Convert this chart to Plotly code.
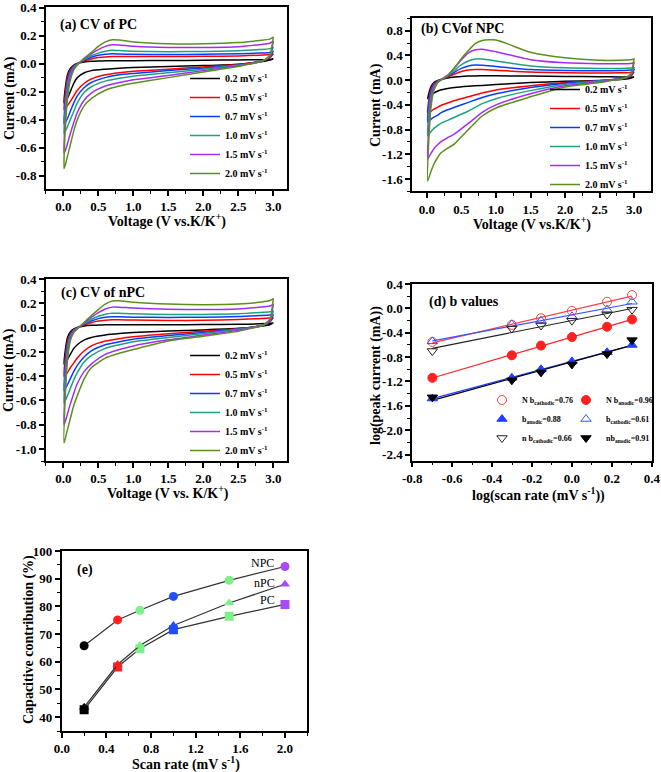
import plotly.graph_objects as go
import numpy as np

W, H = 661, 772
FONT = "Liberation Serif"


def px(x):
    return x / W


def py(y):
    return 1 - y / H


# ---------------- data ----------------
RATE_LABELS = ["0.2 mV s<sup>-1</sup>", "0.5 mV s<sup>-1</sup>", "0.7 mV s<sup>-1</sup>",
               "1.0 mV s<sup>-1</sup>", "1.5 mV s<sup>-1</sup>", "2.0 mV s<sup>-1</sup>"]
CV_COLORS = ["#000000", "#ff0000", "#0a3cff", "#1fa07f", "#a52cf5", "#5b8f1f"]

# voltage grids: anodic sweep (0 -> 3 V) and cathodic sweep (3 -> 0 V)
V_UP = [0.01, 0.03, 0.06, 0.1, 0.15, 0.2, 0.3, 0.4, 0.5, 0.6, 0.7, 0.8, 1.0, 1.5, 2.0, 2.5, 2.8, 2.95, 3.0]
V_DOWN = [3.0, 2.95, 2.85, 2.7, 2.5, 2.0, 1.5, 1.0, 0.8, 0.6, 0.4, 0.3, 0.2, 0.15, 0.1, 0.06, 0.03, 0.01]

# (a) PC
PC_UP = [
    [-0.28, -0.17, -0.08, -0.035, -0.01, 0.002, 0.012, 0.017, 0.019, 0.02, 0.02, 0.02, 0.021, 0.022, 0.024, 0.026, 0.028, 0.03, 0.035],
    [-0.33, -0.21, -0.1, -0.045, -0.015, 0.0, 0.02, 0.033, 0.043, 0.048, 0.05, 0.05, 0.05, 0.05, 0.052, 0.055, 0.06, 0.065, 0.07],
    [-0.43, -0.26, -0.13, -0.055, -0.02, -0.002, 0.025, 0.045, 0.06, 0.067, 0.07, 0.068, 0.066, 0.065, 0.067, 0.07, 0.075, 0.08, 0.09],
    [-0.5, -0.3, -0.15, -0.07, -0.025, -0.005, 0.03, 0.056, 0.075, 0.088, 0.095, 0.093, 0.089, 0.085, 0.087, 0.092, 0.1, 0.107, 0.12],
    [-0.64, -0.38, -0.2, -0.09, -0.035, -0.008, 0.035, 0.07, 0.1, 0.123, 0.135, 0.133, 0.124, 0.115, 0.115, 0.12, 0.135, 0.145, 0.16],
    [-0.75, -0.45, -0.25, -0.12, -0.045, -0.01, 0.04, 0.08, 0.123, 0.155, 0.17, 0.168, 0.155, 0.142, 0.142, 0.15, 0.165, 0.175, 0.19],
]
PC_DOWN = [
    [0.035, 0.025, 0.015, 0.006, -0.004, -0.014, -0.021, -0.028, -0.033, -0.04, -0.05, -0.065, -0.1, -0.14, -0.2, -0.245, -0.27, -0.28],
    [0.07, 0.04, 0.02, 0.006, -0.007, -0.024, -0.04, -0.055, -0.065, -0.08, -0.11, -0.14, -0.19, -0.23, -0.27, -0.3, -0.32, -0.33],
    [0.09, 0.045, 0.02, 0.005, -0.01, -0.032, -0.05, -0.07, -0.08, -0.1, -0.135, -0.17, -0.23, -0.28, -0.34, -0.39, -0.42, -0.43],
    [0.12, 0.05, 0.02, 0.003, -0.012, -0.04, -0.065, -0.09, -0.105, -0.125, -0.165, -0.205, -0.28, -0.34, -0.4, -0.45, -0.48, -0.5],
    [0.16, 0.055, 0.02, 0.001, -0.015, -0.05, -0.085, -0.115, -0.135, -0.16, -0.21, -0.26, -0.35, -0.42, -0.5, -0.57, -0.62, -0.64],
    [0.19, 0.06, 0.02, 0.0, -0.02, -0.06, -0.1, -0.14, -0.16, -0.19, -0.25, -0.3, -0.4, -0.48, -0.58, -0.66, -0.72, -0.75],
]

# (b) NPC
NPC_UP = [
    [-0.3, -0.2, -0.1, -0.04, -0.01, 0.01, 0.035, 0.05, 0.06, 0.065, 0.068, 0.07, 0.07, 0.065, 0.06, 0.055, 0.05, 0.05, 0.05],
    [-0.53, -0.3, -0.14, -0.06, -0.02, 0.005, 0.05, 0.1, 0.14, 0.165, 0.17, 0.17, 0.16, 0.13, 0.12, 0.115, 0.12, 0.125, 0.13],
    [-0.68, -0.38, -0.18, -0.08, -0.025, 0.005, 0.06, 0.13, 0.19, 0.23, 0.245, 0.24, 0.22, 0.17, 0.155, 0.15, 0.155, 0.165, 0.17],
    [-0.9, -0.5, -0.24, -0.1, -0.03, 0.005, 0.07, 0.16, 0.25, 0.31, 0.34, 0.34, 0.31, 0.23, 0.2, 0.19, 0.19, 0.195, 0.2],
    [-1.28, -0.7, -0.32, -0.13, -0.04, 0.005, 0.08, 0.2, 0.33, 0.44, 0.49, 0.5, 0.46, 0.33, 0.28, 0.265, 0.265, 0.27, 0.28],
    [-1.63, -0.9, -0.42, -0.17, -0.05, 0.0, 0.07, 0.2, 0.35, 0.48, 0.59, 0.64, 0.65, 0.45, 0.36, 0.32, 0.32, 0.33, 0.34],
]
NPC_DOWN = [
    [0.05, 0.03, 0.015, 0.005, -0.005, -0.02, -0.04, -0.07, -0.085, -0.1, -0.12, -0.135, -0.16, -0.18, -0.21, -0.24, -0.27, -0.3],
    [0.13, 0.06, 0.03, 0.01, -0.01, -0.04, -0.09, -0.16, -0.21, -0.27, -0.33, -0.37, -0.41, -0.44, -0.47, -0.5, -0.52, -0.53],
    [0.17, 0.07, 0.03, 0.01, -0.012, -0.05, -0.12, -0.22, -0.28, -0.36, -0.44, -0.48, -0.53, -0.57, -0.6, -0.63, -0.66, -0.68],
    [0.2, 0.08, 0.03, 0.008, -0.015, -0.07, -0.17, -0.3, -0.38, -0.5, -0.6, -0.65, -0.7, -0.74, -0.78, -0.83, -0.87, -0.9],
    [0.28, 0.09, 0.03, 0.005, -0.025, -0.09, -0.22, -0.4, -0.52, -0.7, -0.87, -0.93, -1.0, -1.05, -1.11, -1.18, -1.24, -1.28],
    [0.34, 0.1, 0.03, 0.0, -0.04, -0.11, -0.27, -0.45, -0.58, -0.8, -1.03, -1.1, -1.18, -1.26, -1.36, -1.47, -1.57, -1.63],
]

# (c) nPC
NPC2_UP = [
    [-0.3, -0.18, -0.08, -0.035, -0.01, 0.003, 0.015, 0.02, 0.022, 0.024, 0.025, 0.025, 0.025, 0.025, 0.026, 0.028, 0.032, 0.036, 0.04],
    [-0.4, -0.24, -0.11, -0.05, -0.015, 0.0, 0.025, 0.042, 0.055, 0.062, 0.065, 0.065, 0.063, 0.06, 0.062, 0.068, 0.075, 0.08, 0.085],
    [-0.52, -0.3, -0.14, -0.06, -0.02, -0.002, 0.03, 0.055, 0.075, 0.087, 0.09, 0.09, 0.087, 0.085, 0.087, 0.092, 0.1, 0.105, 0.11],
    [-0.62, -0.36, -0.17, -0.07, -0.025, -0.005, 0.035, 0.068, 0.095, 0.112, 0.12, 0.12, 0.115, 0.11, 0.11, 0.115, 0.125, 0.132, 0.14],
    [-0.8, -0.46, -0.22, -0.09, -0.03, -0.008, 0.04, 0.085, 0.125, 0.155, 0.17, 0.17, 0.162, 0.152, 0.15, 0.155, 0.17, 0.18, 0.19],
    [-0.95, -0.55, -0.27, -0.11, -0.04, -0.01, 0.045, 0.1, 0.15, 0.195, 0.22, 0.222, 0.21, 0.195, 0.19, 0.195, 0.21, 0.225, 0.24],
]
NPC2_DOWN = [
    [0.04, 0.025, 0.015, 0.005, -0.005, -0.018, -0.027, -0.04, -0.048, -0.06, -0.08, -0.1, -0.14, -0.17, -0.22, -0.26, -0.285, -0.3],
    [0.085, 0.045, 0.02, 0.005, -0.008, -0.03, -0.05, -0.075, -0.09, -0.11, -0.15, -0.19, -0.25, -0.29, -0.33, -0.37, -0.39, -0.4],
    [0.11, 0.05, 0.02, 0.004, -0.01, -0.04, -0.065, -0.095, -0.115, -0.14, -0.19, -0.24, -0.31, -0.36, -0.42, -0.47, -0.5, -0.52],
    [0.14, 0.055, 0.02, 0.002, -0.012, -0.048, -0.08, -0.115, -0.14, -0.17, -0.23, -0.28, -0.37, -0.43, -0.5, -0.56, -0.6, -0.62],
    [0.19, 0.06, 0.02, 0.0, -0.02, -0.06, -0.1, -0.15, -0.18, -0.22, -0.3, -0.36, -0.46, -0.54, -0.63, -0.71, -0.77, -0.8],
    [0.24, 0.07, 0.02, -0.002, -0.03, -0.07, -0.11, -0.18, -0.21, -0.25, -0.33, -0.42, -0.56, -0.64, -0.75, -0.84, -0.91, -0.95],
]

# (d) b values
LOG_RATE = [-0.699, -0.301, -0.155, 0.0, 0.176, 0.301]
N_CATH = [-0.55, -0.27, -0.16, -0.04, 0.11, 0.22]
N_ANOD = [-1.14, -0.77, -0.61, -0.47, -0.30, -0.18]
P_ANOD = [-1.48, -1.14, -1.00, -0.87, -0.72, -0.60]
P_CATH = [-0.54, -0.26, -0.20, -0.13, -0.02, 0.11]
n_CATH = [-0.70, -0.33, -0.28, -0.20, -0.10, -0.02]
n_ANOD = [-1.46, -1.18, -1.05, -0.92, -0.75, -0.52]
D_LABELS = ["N b<sub>cathodic</sub>=0.76", "N b<sub>anodic</sub>=0.96",
            "b<sub>anodic</sub>=0.88", "b<sub>cathodic</sub>=0.61",
            "n b<sub>cathodic</sub>=0.66", "nb<sub>anodic</sub>=0.91"]

# (e) capacitive contribution
SCAN_RATE = [0.2, 0.5, 0.7, 1.0, 1.5, 2.0]
CAP_NPC = [65.8, 75.1, 78.6, 83.6, 89.4, 94.4]
CAP_nPC = [43.6, 59.0, 65.9, 73.1, 81.2, 88.0]
CAP_PC = [42.7, 58.1, 64.7, 71.6, 76.4, 80.7]
POINT_COLORS = ["#000000", "#ff2020", "#7ef08a", "#1f4fff", "#7ef08a", "#a64cf2"]

# tick labels
CV_XTICKS = [0.0, 0.5, 1.0, 1.5, 2.0, 2.5, 3.0]
A_YTICKS = [-0.8, -0.6, -0.4, -0.2, 0.0, 0.2, 0.4]
B_YTICKS = [-1.6, -1.2, -0.8, -0.4, 0.0, 0.4, 0.8]
C_YTICKS = [-1.0, -0.8, -0.6, -0.4, -0.2, 0.0, 0.2, 0.4]
D_XTICKS = [-0.8, -0.6, -0.4, -0.2, 0.0, 0.2, 0.4]
D_YTICKS = [-2.4, -2.0, -1.6, -1.2, -0.8, -0.4, 0.0, 0.4]
E_XTICKS = [0.0, 0.4, 0.8, 1.2, 1.6, 2.0]
E_YTICKS = [40, 50, 60, 70, 80, 90, 100]

# ---------------- figure ----------------
fig = go.Figure()


def cv_traces(up, down, xa, ya, legend):
    for i in range(6):
        fig.add_trace(go.Scatter(
            x=V_UP + V_DOWN, y=up[i] + down[i], mode="lines",
            line=dict(color=CV_COLORS[i], width=1.5, shape="spline", smoothing=0.6),
            name=RATE_LABELS[i], xaxis=xa, yaxis=ya, legend=legend, showlegend=True))


cv_traces(PC_UP, PC_DOWN, "x", "y", "legend")
cv_traces(NPC_UP, NPC_DOWN, "x2", "y2", "legend2")
cv_traces(NPC2_UP, NPC2_DOWN, "x3", "y3", "legend3")

# (d) fits and points
d_series = [
    (N_CATH, "#ff4040", "circle-open", D_LABELS[0], "legend4"),
    (N_ANOD, "#ff2020", "circle", D_LABELS[1], "legend5"),
    (P_ANOD, "#1f3fff", "triangle-up", D_LABELS[2], "legend4"),
    (P_CATH, "#3355ff", "triangle-up-open", D_LABELS[3], "legend5"),
    (n_CATH, "#222222", "triangle-down-open", D_LABELS[4], "legend4"),
    (n_ANOD, "#000000", "triangle-down", D_LABELS[5], "legend5"),
]
lx = np.array([LOG_RATE[0], LOG_RATE[-1]])
for ys, col, sym, lab, lg in d_series:
    k, b = np.polyfit(LOG_RATE, ys, 1)
    fig.add_trace(go.Scatter(x=lx, y=k * lx + b, mode="lines", line=dict(color=col, width=1.2),
                             xaxis="x4", yaxis="y4", showlegend=False, hoverinfo="skip"))
for ys, col, sym, lab, lg in d_series:
    fig.add_trace(go.Scatter(x=LOG_RATE, y=ys, mode="markers",
                             marker=dict(symbol=sym, size=9, color=col, line=dict(color=col, width=1)),
                             name=lab, xaxis="x4", yaxis="y4", legend=lg, showlegend=True))

# (e)
for ys, sym in [(CAP_PC, "square"), (CAP_nPC, "triangle-up"), (CAP_NPC, "circle")]:
    fig.add_trace(go.Scatter(x=SCAN_RATE, y=ys, mode="lines+markers",
                             line=dict(color="#333333", width=1.2),
                             marker=dict(symbol=sym, size=9, color=POINT_COLORS, line=dict(width=0)),
                             xaxis="x5", yaxis="y5", showlegend=False))


def fmt(vals, d):
    return [f"{v:.{d}f}" for v in vals]


def axis(dom, rng, ticks, dec, minor, anchor):
    return dict(domain=dom, range=rng, tickmode="array", tickvals=ticks, ticktext=fmt(ticks, dec),
                ticks="outside", ticklen=5, tickwidth=1.5, tickcolor="black",
                showline=True, linewidth=1.5, linecolor="black", mirror=True,
                showgrid=False, zeroline=False, anchor=anchor, automargin=False,
                tickfont=dict(family=FONT, size=13, color="black", weight="bold"),
                minor=dict(ticks="outside", ticklen=3, tickwidth=1, tickcolor="black",
                           tickmode="linear", tick0=0, dtick=minor, showgrid=False))


# pixel boxes (left, right, top, bottom)
A_BOX = (45.8, 287.3, 7.3, 189.0)
B_BOX = (412.0, 651.0, 18.3, 191.4)
C_BOX = (45.8, 287.3, 279.0, 461.1)
D_BOX = (412.0, 652.0, 284.0, 460.6)
E_BOX = (61.7, 307.3, 550.7, 731.0)


def xd(b):
    return [px(b[0]), px(b[1])]


def yd(b):
    return [py(b[3]), py(b[2])]


fig.update_layout(
    width=W, height=H, margin=dict(l=0, r=0, t=0, b=0, pad=0, autoexpand=False),
    paper_bgcolor="white", plot_bgcolor="white",
    font=dict(family=FONT, color="black"),
    xaxis=axis(xd(A_BOX), [-0.25, 3.2], CV_XTICKS, 1, 0.25, "y"),
    yaxis=axis(yd(A_BOX), [-0.895, 0.402], A_YTICKS, 1, 0.1, "x"),
    xaxis2=axis(xd(B_BOX), [-0.217, 3.246], CV_XTICKS, 1, 0.25, "y2"),
    yaxis2=axis(yd(B_BOX), [-1.8, 1.0], B_YTICKS, 1, 0.2, "x2"),
    xaxis3=axis(xd(C_BOX), [-0.25, 3.2], CV_XTICKS, 1, 0.25, "y3"),
    yaxis3=axis(yd(C_BOX), [-1.1, 0.402], C_YTICKS, 1, 0.1, "x3"),
    xaxis4=axis(xd(D_BOX), [-0.801, 0.401], D_XTICKS, 1, 0.1, "y4"),
    yaxis4=axis(yd(D_BOX), [-2.5, 0.402], D_YTICKS, 1, 0.2, "x4"),
    xaxis5=axis(xd(E_BOX), [-0.001, 2.2], E_XTICKS, 1, 0.2, "y5"),
    yaxis5=axis(yd(E_BOX), [35, 100.1], E_YTICKS, 0, 5, "x5"),
)


def leg(x, yc, size=10):
    return dict(x=px(x), y=py(yc), xanchor="left", yanchor="middle", bgcolor="rgba(0,0,0,0)",
                borderwidth=0, font=dict(family=FONT, size=size, color="black", weight="bold"),
                itemwidth=30, tracegroupgap=0)


fig.update_layout(
    legend=leg(185, 126), legend2=leg(545, 137), legend3=leg(185, 403),
    legend4=leg(482, 419, 8), legend5=leg(566, 419, 8),
)

ann = []


def text(x, y, s, size=14, bold=True, angle=0, xanchor="center"):
    ann.append(dict(x=px(x), y=py(y), xref="paper", yref="paper", text=s, showarrow=False,
                    xanchor=xanchor, yanchor="middle", textangle=angle,
                    font=dict(family=FONT, size=size, color="black", weight="bold" if bold else "normal")))


# panel labels
text(58, 25, "(a) CV of PC", xanchor="left")
text(419, 29, "(b) CVof NPC", xanchor="left")
text(59, 293, "(c) CV of nPC", xanchor="left")
text(427, 302, "(d) b values", xanchor="left")
# axis titles
text(10, 98, "Current (mA)", angle=-90)
text(167, 220, "Voltage (V vs.K/K<sup>+</sup>)")
text(376, 105, "Current (mA)", angle=-90)
text(532, 223, "Voltage (V vs.K/K<sup>+</sup>)")
text(9, 370, "Current (mA)", angle=-90)
text(168, 492, "Voltage (V vs. K/K<sup>+</sup>)")
text(376, 376, "log(peak current (mA))", angle=-90)
text(538, 494, "log(scan rate (mV s<sup>-1</sup>))")
text(29, 640, "Capacitive contribution (%)", angle=-90)
text(186, 763, "Scan rate (mV s<sup>-1</sup>)")

# (e) labels in data coordinates
for s, xv, yv in [("NPC", 1.80, 95.8), ("nPC", 1.82, 88.4), ("PC", 1.84, 82.2)]:
    ann.append(dict(x=xv, y=yv, xref="x5", yref="y5", text=s, showarrow=False,
                    font=dict(family=FONT, size=12, color="black")))
ann.append(dict(x=0.21, y=93.3, xref="x5", yref="y5", text="(e)", showarrow=False,
                font=dict(family=FONT, size=14, color="black", weight="bold")))

fig.update_layout(annotations=ann)
fig.write_html("out.html", config={"displayModeBar": False},
               post_script="document.body.style.margin='0px';")
